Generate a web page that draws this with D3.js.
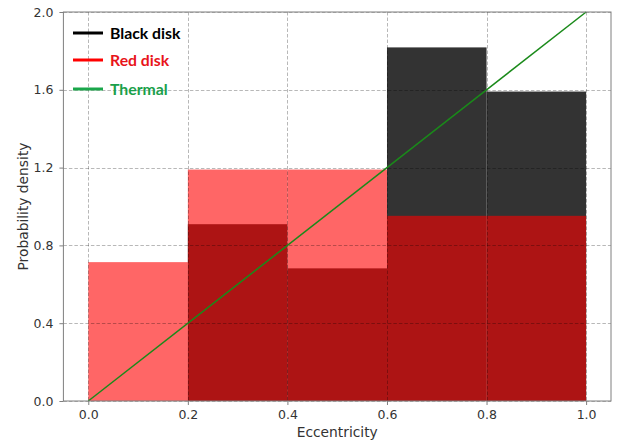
<!DOCTYPE html>
<html>
<head>
<meta charset="utf-8">
<script src="https://cdn.jsdelivr.net/npm/d3@7"></script>
<style>
  html, body { margin: 0; padding: 0; background: #fff; }
  svg { display: block; }
</style>
</head>
<body>
<svg id="chart" width="623" height="443"></svg>
<script>
// ---- data ----
const binEdges = [0.0, 0.2, 0.4, 0.6, 0.8, 1.0];
const blackDisk = [0.0, 0.909, 0.682, 1.818, 1.591];
const redDisk = [0.714, 1.190, 1.190, 0.952, 0.952];
const thermalX = [0.0, 1.0];
const thermalY = [0.0, 2.0];
const xTicks = [0.0, 0.2, 0.4, 0.6, 0.8, 1.0];
const yTicks = [0.0, 0.4, 0.8, 1.2, 1.6, 2.0];
const legendLabels = ["Black disk", "Red disk", "Thermal"];

// ---- layout ----
const svg = d3.select("#chart");
const L = 63.4, R = 611, T = 12, B = 401;
const x = d3.scaleLinear().domain([-0.05, 1.05]).range([L, R]);
const y = d3.scaleLinear().domain([0, 2.0]).range([B, T]);

const plot = svg.append("g");

// bars
function drawHist(vals, color, op) {
  plot.append("g").selectAll("rect").data(vals).join("rect")
    .attr("x", (d, i) => x(binEdges[i]))
    .attr("width", (d, i) => x(binEdges[i + 1]) - x(binEdges[i]))
    .attr("y", d => y(d))
    .attr("height", d => y(0) - y(d))
    .attr("fill", color)
    .attr("fill-opacity", op);
}
drawHist(blackDisk, "#000000", 0.8);
drawHist(redDisk, "#ff0000", 0.6);

// grid (on top of bars)
const grid = plot.append("g").attr("stroke", "#000").attr("stroke-opacity", 0.28)
  .attr("stroke-width", 1).attr("stroke-dasharray", "3.5,2");
grid.selectAll("line.gx").data(xTicks).join("line")
  .attr("x1", d => Math.round(x(d)) + 0.5).attr("x2", d => Math.round(x(d)) + 0.5)
  .attr("y1", T).attr("y2", B);
grid.selectAll("line.gy").data(yTicks).join("line")
  .attr("x1", L).attr("x2", R)
  .attr("y1", d => Math.round(y(d)) + 0.5).attr("y2", d => Math.round(y(d)) + 0.5);

// thermal line
plot.append("path")
  .datum(thermalX.map((v, i) => [v, thermalY[i]]))
  .attr("d", d3.line().x(d => x(d[0])).y(d => y(d[1])))
  .attr("fill", "none").attr("stroke", "#1a8a1a").attr("stroke-width", 1.5);

// axes
const axisColor = "#7f7f7f";
const xAxis = svg.append("g").attr("transform", `translate(0,${B})`)
  .call(d3.axisBottom(x).tickValues(xTicks).tickFormat(d3.format(".1f")).tickSize(4).tickPadding(5));
const yAxis = svg.append("g").attr("transform", `translate(${L},0)`)
  .call(d3.axisLeft(y).tickValues(yTicks).tickFormat(d3.format(".1f")).tickSize(4).tickPadding(6));
[xAxis, yAxis].forEach(a => {
  a.select(".domain").remove();
  a.selectAll(".tick line").attr("stroke", axisColor);
  a.selectAll(".tick text").attr("fill", "#333").style("font-family", "DejaVu Sans")
    .style("font-size", "12.5px");
});

// frame
svg.append("rect").attr("x", L).attr("y", T).attr("width", R - L).attr("height", B - T)
  .attr("fill", "none").attr("stroke", axisColor).attr("stroke-width", 1);

// axis labels
svg.append("text").attr("x", (L + R) / 2).attr("y", 437).attr("text-anchor", "middle")
  .attr("fill", "#333").style("font-family", "DejaVu Sans").style("font-size", "13.8px")
  .text("Eccentricity");
svg.append("text").attr("transform", `translate(28,${(T + B) / 2}) rotate(-90)`)
  .attr("text-anchor", "middle")
  .attr("fill", "#333").style("font-family", "DejaVu Sans").style("font-size", "13.8px")
  .text("Probability density");

// legend
const legColors = ["#000000", "#ff0000", "#1aa64a"];
const legText = ["#000000", "#e8141a", "#1aa04a"];
const legY = [33, 60, 89];
const leg = svg.append("g");
legendLabels.forEach((lab, i) => {
  leg.append("line").attr("x1", 73).attr("x2", 103).attr("y1", legY[i]).attr("y2", legY[i])
    .attr("stroke", legColors[i]).attr("stroke-width", 3);
  leg.append("text").attr("x", 110).attr("y", legY[i] + 5.5)
    .attr("fill", legText[i]).style("font-family", "Lato").style("font-weight", "bold")
    .style("font-size", "15.8px").text(lab);
});
</script>
</body>
</html>
